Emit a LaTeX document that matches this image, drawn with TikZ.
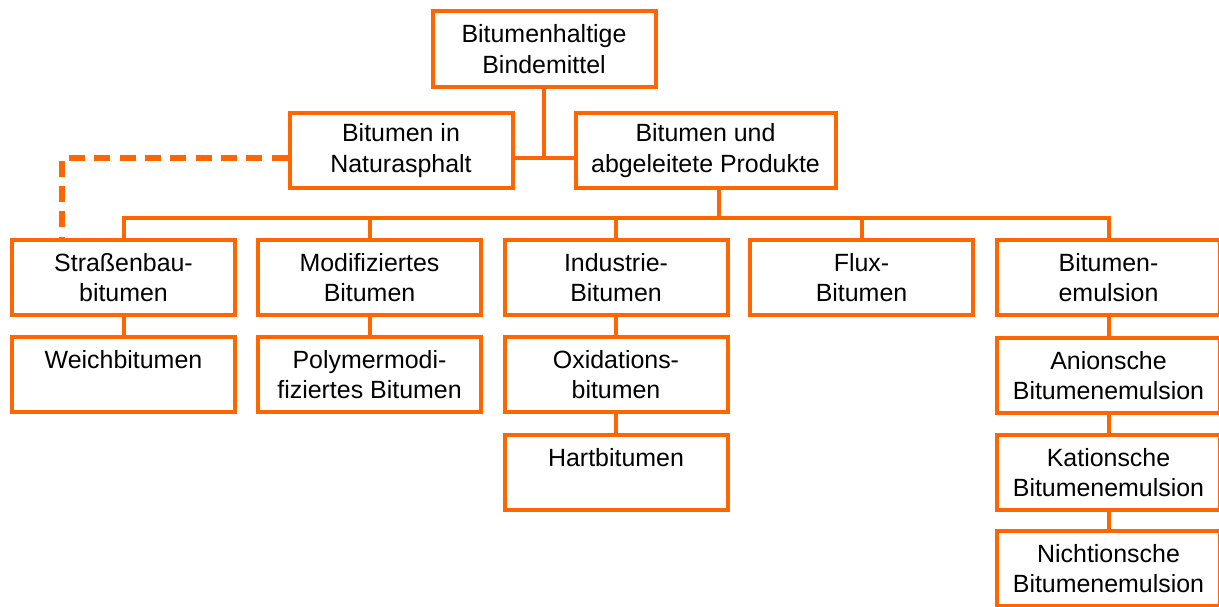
\documentclass[tikz,border=0pt]{standalone}
\usepackage{fontspec}
\setmainfont{Liberation Sans}
\definecolor{orng}{RGB}{255,102,0}
\begin{document}
\begin{tikzpicture}[x=0.75pt,y=-0.75pt,
  box/.style={draw=orng, line width=3pt, minimum width=167.25pt, minimum height=56.5pt,
    align=center, inner sep=0pt, fill=white, font=\fontsize{18.7}{23}\selectfont,
    execute at begin node=\rule{0pt}{18pt}},
  conn/.style={draw=orng, line width=3pt},
  dashline/.style={draw=orng, line width=4pt, dash pattern=on 12pt off 7pt}]
\useasboundingbox (0,0) rectangle (1219,606);
\clip (0,0) rectangle (1219,606);
% nodes
\node[box] (top) at (544,49) {Bitumenhaltige\\Bindemittel};
\node[box] (nat) at (401,150.5) {Bitumen in\\Naturasphalt};
\node[box, minimum width=195pt] (abg) at (705.5,150.5) {Bitumen und\\abgeleitete Produkte};
\node[box] (str) at (123.5,277.5) {Straßenbau-\\bitumen};
\node[box] (mod) at (369.5,277.5) {Modifiziertes\\Bitumen};
\node[box] (ind) at (616,277.5) {Industrie-\\Bitumen};
\node[box] (flux) at (861.5,277.5) {Flux-\\Bitumen};
\node[box] (emu) at (1108.5,277.5) {Bitumen-\\emulsion};
\node[box] (weich) at (123.5,374.5) {Weichbitumen\\\mbox{}};
\node[box] (poly) at (369.5,374.5) {Polymermodi-\\fiziertes Bitumen};
\node[box] (oxi) at (616,374.5) {Oxidations-\\bitumen};
\node[box] (anio) at (1108.5,375.5) {Anionsche\\Bitumenemulsion};
\node[box] (hart) at (616,472.5) {Hartbitumen\\\mbox{}};
\node[box] (kat) at (1108.5,472.5) {Kationsche\\Bitumenemulsion};
\node[box] (nicht) at (1108.5,568.5) {Nichtionsche\\Bitumenemulsion};
% connectors
\coordinate (j1) at (544,158);
\coordinate (bus) at (719,218);
\coordinate (dc) at (62,158);
\draw[conn] (top.south) -- (j1);
\draw[conn] (nat.east |- j1) -- (abg.west |- j1);
\draw[conn] (abg.south -| bus) -- (bus);
\draw[conn] (str.north) -- (str.north |- bus) -- (emu.north |- bus) -- (emu.north);
\draw[conn] (mod.north) -- (mod.north |- bus);
\draw[conn] (ind.north) -- (ind.north |- bus);
\draw[conn] (flux.north) -- (flux.north |- bus);
\draw[conn] (str.south) -- (weich.north);
\draw[conn] (mod.south) -- (poly.north);
\draw[conn] (ind.south) -- (oxi.north);
\draw[conn] (oxi.south) -- (hart.north);
\draw[conn] (emu.south) -- (anio.north);
\draw[conn] (anio.south) -- (kat.north);
\draw[conn] (kat.south) -- (nicht.north);
\draw[dashline] (nat.west |- dc) -- (dc) -- (dc |- str.north);
\end{tikzpicture}
\end{document}
